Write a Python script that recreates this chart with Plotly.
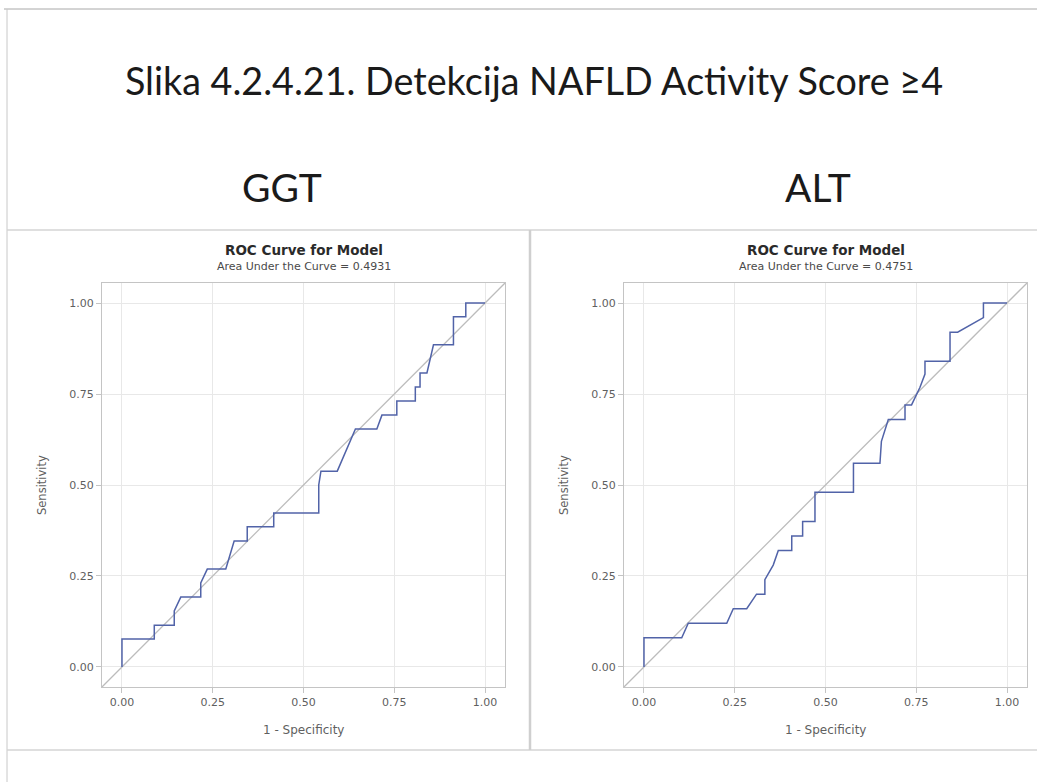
import plotly.graph_objects as go

W, H = 1037, 782

# ---- data ----
ggt_fpr = [0, 0, 0.089, 0.089, 0.144, 0.144, 0.162, 0.217, 0.217, 0.235, 0.286, 0.309, 0.345, 0.345,
           0.418, 0.418, 0.542, 0.542, 0.548, 0.593, 0.643, 0.702, 0.716, 0.757, 0.757, 0.808, 0.808,
           0.821, 0.821, 0.84, 0.858, 0.913, 0.913, 0.947, 0.947, 1.0]
ggt_sens = [0, 0.077, 0.077, 0.115, 0.115, 0.154, 0.192, 0.192, 0.231, 0.269, 0.269, 0.346, 0.346, 0.385,
            0.385, 0.423, 0.423, 0.5, 0.538, 0.538, 0.654, 0.654, 0.692, 0.692, 0.731, 0.731, 0.769,
            0.769, 0.808, 0.808, 0.885, 0.885, 0.962, 0.962, 1.0, 1.0]

alt_fpr = [0, 0, 0.076, 0.104, 0.122, 0.228, 0.246, 0.283, 0.31, 0.333, 0.333, 0.356, 0.37, 0.407,
           0.407, 0.437, 0.437, 0.471, 0.471, 0.577, 0.577, 0.65, 0.654, 0.673, 0.719, 0.719, 0.737,
           0.76, 0.774, 0.774, 0.843, 0.843, 0.864, 0.935, 0.935, 1.0]
alt_sens = [0, 0.08, 0.08, 0.08, 0.12, 0.12, 0.16, 0.16, 0.2, 0.2, 0.24, 0.28, 0.32, 0.32,
            0.36, 0.36, 0.4, 0.4, 0.48, 0.48, 0.56, 0.56, 0.62, 0.68, 0.68, 0.72, 0.72,
            0.768, 0.805, 0.84, 0.84, 0.92, 0.92, 0.96, 1.0, 1.0]

panel_labels = ["GGT", "ALT"]
auc_values = ["0.4931", "0.4751"]
tick_vals = [0, 0.25, 0.5, 0.75, 1.0]
tick_text = ["0.00", "0.25", "0.50", "0.75", "1.00"]
main_title = "Slika 4.2.4.21. Detekcija NAFLD Activity Score ≥4"

# ---- layout helpers (pixel -> paper) ----
def px(x):
    return x / W

def py(y):
    return 1 - y / H

CURVE = "#5163a8"
DIAG = "#bcbcbc"
GRID = "#e8e8e8"
FRAME = "#c4c4c4"
TICKC = "#5f5f5f"
SAS_FONT = "DejaVu Sans"

fig = go.Figure()

panels = [
    dict(fpr=ggt_fpr, sens=ggt_sens, xa="x", ya="y", left=102, right=505, label_x=282),
    dict(fpr=alt_fpr, sens=alt_sens, xa="x2", ya="y2", left=624, right=1027, label_x=818),
]
top, bottom = 283, 687
RNG = [-0.055, 1.055]

for p in panels:
    fig.add_trace(go.Scatter(x=RNG, y=RNG, mode="lines",
                             line=dict(color=DIAG, width=1.3), xaxis=p["xa"], yaxis=p["ya"],
                             hoverinfo="skip", showlegend=False))
    fig.add_trace(go.Scatter(x=p["fpr"], y=p["sens"], mode="lines",
                             line=dict(color=CURVE, width=1.5), xaxis=p["xa"], yaxis=p["ya"],
                             showlegend=False))

axis_common = dict(range=RNG, tickvals=tick_vals, ticktext=tick_text,
                   showgrid=True, gridcolor=GRID, gridwidth=1, zeroline=False,
                   showline=True, linecolor=FRAME, linewidth=1.2, mirror=True,
                   ticks="outside", ticklen=5, tickcolor=FRAME,
                   tickfont=dict(family=SAS_FONT, size=11, color=TICKC), fixedrange=True)

layout_axes = {}
for i, p in enumerate(panels):
    sfx = "" if i == 0 else str(i + 1)
    layout_axes["xaxis" + sfx] = dict(axis_common, domain=[px(p["left"]), px(p["right"])],
                                      anchor="y" + sfx)
    layout_axes["yaxis" + sfx] = dict(axis_common, domain=[py(bottom), py(top)],
                                      anchor="x" + sfx)

annotations = [
    dict(text=main_title, x=px(534), y=py(81), xref="paper", yref="paper", showarrow=False,
         xanchor="center", yanchor="middle", font=dict(family="Lato", size=37.7, color="#1a1a1a")),
]
for i, p in enumerate(panels):
    cx = (p["left"] + p["right"]) / 2
    annotations += [
        dict(text=panel_labels[i], x=px(p["label_x"]), y=py(187), xref="paper", yref="paper",
             showarrow=False, xanchor="center", yanchor="middle",
             font=dict(family="Lato", size=39, color="#1a1a1a")),
        dict(text="<b>ROC Curve for Model</b>", x=px(cx), y=py(250), xref="paper", yref="paper",
             showarrow=False, xanchor="center", yanchor="middle",
             font=dict(family=SAS_FONT, size=13.5, color="#2a2a2a")),
        dict(text="Area Under the Curve = " + auc_values[i], x=px(cx), y=py(267), xref="paper",
             yref="paper", showarrow=False, xanchor="center", yanchor="middle",
             font=dict(family=SAS_FONT, size=11, color="#4a4a4a")),
        dict(text="1 - Specificity", x=px(cx), y=py(730), xref="paper", yref="paper",
             showarrow=False, xanchor="center", yanchor="middle",
             font=dict(family=SAS_FONT, size=12, color=TICKC)),
        dict(text="Sensitivity", x=px(p["left"] - 60), y=py((top + bottom) / 2), xref="paper",
             yref="paper", showarrow=False, xanchor="center", yanchor="middle", textangle=-90,
             font=dict(family=SAS_FONT, size=11.5, color=TICKC)),
    ]

shapes = [
    dict(type="line", xref="paper", yref="paper", x0=px(4), x1=1, y0=py(9), y1=py(9),
         line=dict(color="#a8a8a8", width=1)),
    dict(type="line", xref="paper", yref="paper", x0=px(7), x1=px(7), y0=py(9), y1=0,
         line=dict(color="#c8c8c8", width=1)),
    dict(type="line", xref="paper", yref="paper", x0=px(7), x1=1, y0=py(230), y1=py(230),
         line=dict(color="#d4d4d4", width=1.5)),
    dict(type="line", xref="paper", yref="paper", x0=px(7), x1=1, y0=py(750), y1=py(750),
         line=dict(color="#d4d4d4", width=1.5)),
    dict(type="line", xref="paper", yref="paper", x0=px(530), x1=px(530), y0=py(230), y1=py(750),
         line=dict(color="#cfcfcf", width=2.5)),
]

fig.update_layout(width=W, height=H, margin=dict(l=0, r=0, t=0, b=0),
                  paper_bgcolor="white", plot_bgcolor="white",
                  annotations=annotations, shapes=shapes, showlegend=False,
                  **layout_axes)

fig.write_html("out.html", config={"displayModeBar": False},
               post_script="document.body.style.margin='0';document.body.style.overflow='hidden';")
